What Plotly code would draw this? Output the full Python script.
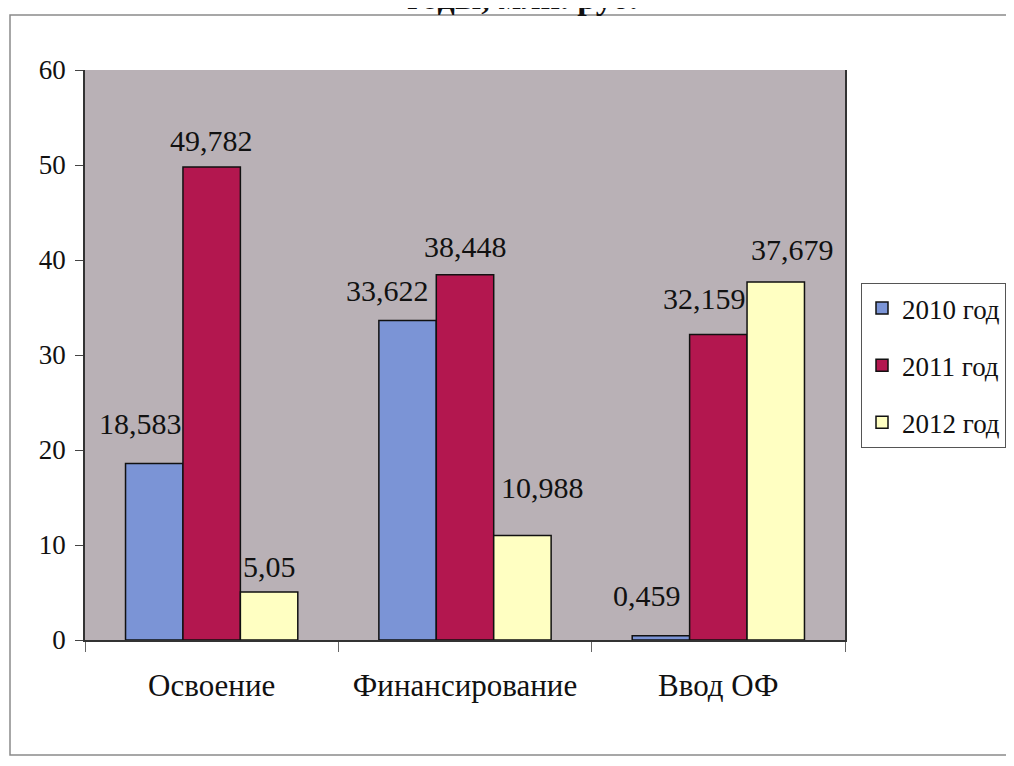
import plotly.graph_objects as go

categories = ["Освоение", "Финансирование", "Ввод ОФ"]
series_names = ["2010 год", "2011 год", "2012 год"]
values_2010 = [18.583, 33.622, 0.459]
values_2011 = [49.782, 38.448, 32.159]
values_2012 = [5.05, 10.988, 37.679]
y_ticks = [0, 10, 20, 30, 40, 50, 60]
title_text = "годы, млн. руб."

colors = ["#7b94d6", "#b3174f", "#ffffc2"]
FONT = "Liberation Serif, Times New Roman, serif"

# label nudges (pixels) per series / category, as placed in the original
label_dx = [[-14, -20, -14], [0, 0, -14], [0, 20, 17]]
label_dy = [[40, 30, 40], [27, 28, 36], [26, 48, 33]]

W, H = 998, 750
L, R, T, B = 77, 161, 62, 118
PW, PH = W - L - R, H - T - B
BARGAP = 0.32
bar_px = PW / len(categories) * (1 - BARGAP) / len(series_names)


def px_x(p):
    return (p - L) / PW


def px_y(p):
    return (H - B - p) / PH


def fmt(v):
    return str(v).replace(".", ",")


fig = go.Figure()
all_vals = [values_2010, values_2011, values_2012]
for i, (name, vals) in enumerate(zip(series_names, all_vals)):
    fig.add_trace(go.Bar(
        x=categories, y=vals, name=name, legendgroup=name,
        marker=dict(color=colors[i], line=dict(color="#111111", width=1.5)),
    ))

annotations = []
for i, vals in enumerate(all_vals):
    for c, (cat, v) in enumerate(zip(categories, vals)):
        annotations.append(dict(
            x=cat, y=v, xref="x", yref="y", text=fmt(v), showarrow=False,
            xanchor="center", yanchor="middle",
            xshift=(i - 1) * bar_px + label_dx[i][c], yshift=label_dy[i][c],
            font=dict(family=FONT, size=30, color="#111111"),
        ))

annotations.append(dict(
    text="<b>" + title_text + "</b>", xref="paper", yref="paper",
    x=px_x(514), y=px_y(10), xanchor="center", yanchor="bottom",
    showarrow=False, font=dict(family=FONT, size=34, color="#111111"),
))

fig.update_layout(
    width=W, height=H,
    margin=dict(l=L, r=R, t=T, b=B, autoexpand=False),
    paper_bgcolor="white",
    plot_bgcolor="#b9b1b6",
    barmode="group", bargap=BARGAP, bargroupgap=0,
    font=dict(family=FONT, size=24, color="#111111"),
    showlegend=True,
    legend=dict(
        x=px_x(853), y=px_y(275), xanchor="left", yanchor="top",
        bgcolor="white", bordercolor="#555555", borderwidth=1,
        font=dict(family=FONT, size=27, color="#111111"),
        tracegroupgap=19, itemwidth=30,
    ),
    xaxis=dict(
        showgrid=False, showline=True, linecolor="#333333", linewidth=1.5,
        ticks="outside", tickson="boundaries", ticklen=10, tickcolor="#666666",
        tickfont=dict(family=FONT, size=31, color="#111111"),
        ticklabelstandoff=17,
    ),
    yaxis=dict(
        range=[0, 60], tickvals=y_ticks, showgrid=False,
        showline=True, linecolor="#333333", linewidth=1.5, mirror=True,
        ticks="outside", ticklen=8, tickcolor="#444444",
        tickfont=dict(family=FONT, size=27, color="#111111"),
        ticklabelstandoff=4,
        zeroline=False,
    ),
    shapes=[dict(
        type="rect", xref="paper", yref="paper",
        x0=px_x(2), x1=px_x(1040), y0=px_y(747), y1=px_y(7),
        line=dict(color="#8a8a8a", width=1.5), fillcolor="rgba(0,0,0,0)",
        layer="below",
    )],
    annotations=annotations,
)

fig.write_html("out.html")
